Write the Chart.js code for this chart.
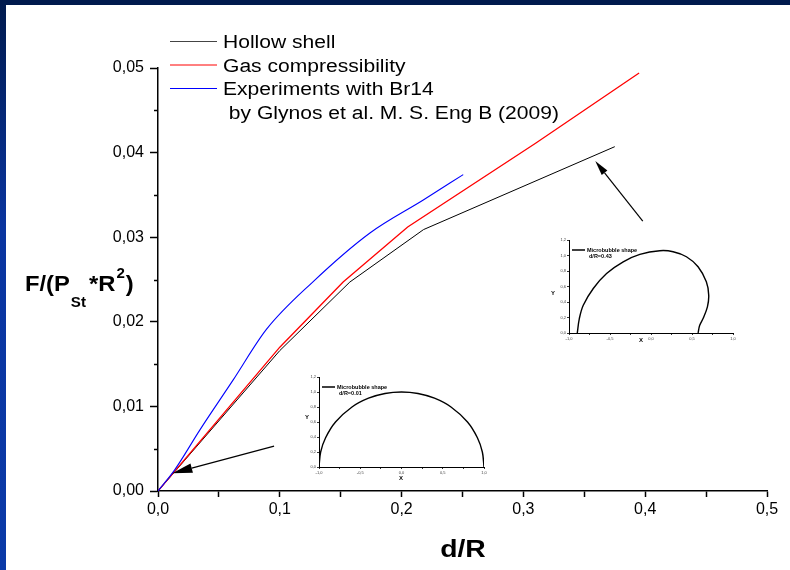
<!DOCTYPE html>
<html>
<head>
<meta charset="utf-8">
<script src="https://cdn.jsdelivr.net/npm/chart.js@4/dist/chart.umd.min.js"></script>
<style>
body { margin: 0; background: #fff; }
#wrap { position: relative; width: 790px; height: 570px; overflow: hidden; background: #fff; }
#topband { position: absolute; left: 0; top: 0; width: 790px; height: 5px; background: #001a4d; }
#leftband { position: absolute; left: 0; top: 0; width: 6px; height: 570px; background: linear-gradient(#001a4d, #0a35a0 40%, #0b3aa8); }
canvas { position: absolute; }
</style>
</head>
<body>
<div id="wrap">
<canvas id="main" width="790" height="570" style="left:0;top:0"></canvas>
<canvas id="insetA" width="205" height="120" style="left:290px;top:365px"></canvas>
<canvas id="insetB" width="205" height="120" style="left:540px;top:228px"></canvas>
<div id="topband"></div>
<div id="leftband"></div>
</div>
<script>
// main curves
var hollowX = [0, 0.1, 0.1575, 0.218, 0.375];
var hollowY = [0, 0.0166, 0.0247, 0.0309, 0.0407];
var gasX = [0, 0.1, 0.152, 0.205, 0.31, 0.395];
var gasY = [0, 0.0170, 0.0247, 0.0312, 0.0411, 0.0494];
var expX = [0, 0.0137, 0.0343, 0.0616, 0.089, 0.127, 0.174, 0.2178, 0.2506];
var expY = [0, 0.0025, 0.0072, 0.0131, 0.0191, 0.0247, 0.0305, 0.0344, 0.0374];

var legendNames = ['Hollow shell', 'Gas compressibility', 'Experiments with Br14', ' by Glynos et al. M. S. Eng B (2009)'];
var legendColors = ['#444', '#f00', '#00f', null];

// arrows, in data units: [tailX, tailY, tipX, tipY, headLength]
var arrows = [[0.0953, 0.0053, 0.0118, 0.0021, 20], [0.398, 0.0319, 0.359, 0.0390, 15]];

// microbubble shapes for the insets
var shapeAX = [-1, -0.98, -0.92, -0.8, -0.6, -0.4, -0.2, 0, 0.2, 0.4, 0.6, 0.8, 0.92, 0.98, 1];
var shapeAY = [0, 0.2, 0.39, 0.6, 0.8, 0.917, 0.98, 1, 0.98, 0.917, 0.8, 0.6, 0.39, 0.2, 0];
var shapeBX = [-0.899, -0.874, -0.826, -0.704, -0.542, -0.339, -0.136, 0.108, 0.27, 0.432, 0.574, 0.675, 0.704, 0.688, 0.635, 0.594, 0.574];
var shapeBY = [0, 0.186, 0.358, 0.574, 0.768, 0.919, 1.014, 1.062, 1.049, 0.984, 0.855, 0.66, 0.488, 0.337, 0.186, 0.099, 0];

var FONT = '"Liberation Sans", Arial, sans-serif';

function pts(xs, ys)
{
    return xs.map(function (x, i) { return {x: x, y: ys[i]}; });
}

function comma(v, d)
{
    return v.toFixed(d).replace('.', ',');
}

function isMajorY(v)
{
    return Math.round(v * 1000) % 10 === 0;
}

function stretchText(ctx, txt, x, y, sx)
{
    var w = ctx.measureText(txt).width * sx;
    ctx.save();
    ctx.translate(x, y);
    ctx.scale(sx, 1);
    ctx.fillText(txt, 0, 0);
    ctx.restore();
    return w;
}

var deco = {
    id: 'deco',
    afterDraw: function (chart) {
        var ctx = chart.ctx;
        var xs = chart.scales.x, ys = chart.scales.y;
        ctx.save();
        ctx.fillStyle = '#000';
        ctx.textAlign = 'left';
        ctx.textBaseline = 'alphabetic';

        // minor ticks on y
        ctx.strokeStyle = '#000';
        ctx.lineWidth = 1.5;
        ys.ticks.forEach(function (t) {
            if (isMajorY(t.value)) return;
            var py = Math.round(ys.getPixelForValue(t.value)) + 0.5;
            ctx.beginPath();
            ctx.moveTo(chart.chartArea.left - 4, py);
            ctx.lineTo(chart.chartArea.left, py);
            ctx.stroke();
        });

        // legend
        ctx.font = '18px ' + FONT;
        for (var i = 0; i < legendNames.length; i++) {
            var yy = 41 + i * 23.5;
            if (legendColors[i]) {
                ctx.strokeStyle = legendColors[i];
                ctx.lineWidth = 1;
                ctx.beginPath();
                ctx.moveTo(170, yy + 0.5);
                ctx.lineTo(217, yy + 0.5);
                ctx.stroke();
            }
            stretchText(ctx, legendNames[i], 223, yy + 7, 1.17);
        }

        // y title
        var x = 25, sx = 1.08;
        ctx.font = 'bold 22px ' + FONT;
        x += stretchText(ctx, 'F/(P', x, 291, sx);
        ctx.font = 'bold 14px ' + FONT;
        x += stretchText(ctx, 'St', x + 1, 307, sx) + 4;
        ctx.font = 'bold 22px ' + FONT;
        x += stretchText(ctx, '*R', x, 291, sx);
        ctx.font = 'bold 14px ' + FONT;
        x += stretchText(ctx, '2', x + 1, 278, sx) + 2;
        ctx.font = 'bold 22px ' + FONT;
        stretchText(ctx, ')', x, 291, sx);

        // x title
        ctx.font = 'bold 24px ' + FONT;
        var w = ctx.measureText('d/R').width * 1.18;
        stretchText(ctx, 'd/R', 463 - w / 2, 557, 1.18);

        // arrows
        ctx.strokeStyle = '#000';
        ctx.lineWidth = 1.2;
        arrows.forEach(function (a) {
            var x0 = xs.getPixelForValue(a[0]), y0 = ys.getPixelForValue(a[1]);
            var x1 = xs.getPixelForValue(a[2]), y1 = ys.getPixelForValue(a[3]);
            var ang = Math.atan2(y1 - y0, x1 - x0);
            var L = a[4], hw = L * 0.24;
            var bx = x1 - L * Math.cos(ang), by = y1 - L * Math.sin(ang);
            ctx.beginPath();
            ctx.moveTo(x0, y0);
            ctx.lineTo(bx, by);
            ctx.stroke();
            ctx.beginPath();
            ctx.moveTo(x1, y1);
            ctx.lineTo(bx + hw * Math.sin(ang), by - hw * Math.cos(ang));
            ctx.lineTo(bx - hw * Math.sin(ang), by + hw * Math.cos(ang));
            ctx.closePath();
            ctx.fill();
        });
        ctx.restore();
    }
};

new Chart(document.getElementById('main'), {
    type: 'scatter',
    data: {
        datasets: [
            {data: pts(expX, expY), showLine: true, borderColor: '#00f', borderWidth: 1.1, pointRadius: 0, cubicInterpolationMode: 'monotone'},
            {data: pts(gasX, gasY), showLine: true, borderColor: '#f00', borderWidth: 1.3, pointRadius: 0, tension: 0},
            {data: pts(hollowX, hollowY), showLine: true, borderColor: '#000', borderWidth: 1, pointRadius: 0, tension: 0}
        ]
    },
    options: {
        responsive: false,
        animation: false,
        devicePixelRatio: 1,
        layout: {padding: {left: 0, right: 23, top: 68, bottom: 0}},
        plugins: {legend: {display: false}, tooltip: {enabled: false}},
        scales: {
            x: {
                type: 'linear', min: 0, max: 0.5,
                afterFit: function (s) { s.height = 79; },
                border: {display: true, color: '#000', width: 1.5},
                grid: {display: true, drawOnChartArea: false, drawTicks: true, tickLength: 6, tickColor: '#000', tickWidth: 1.5},
                ticks: {
                    stepSize: 0.05, autoSkip: false, maxRotation: 0, padding: 3, color: '#000',
                    font: {family: FONT, size: 16},
                    callback: function (v) { var k = Math.round(v * 100); return k % 10 === 0 ? comma(k / 100, 1) : ''; }
                }
            },
            y: {
                type: 'linear', min: 0, max: 0.05,
                afterFit: function (s) { s.width = 158; },
                border: {display: true, color: '#000', width: 1.5},
                grid: {
                    display: true, drawOnChartArea: false, drawTicks: true, tickLength: 8, tickWidth: 1.5,
                    tickColor: function (c) { return c.tick && isMajorY(c.tick.value) ? '#000' : 'rgba(0,0,0,0)'; }
                },
                ticks: {
                    stepSize: 0.005, autoSkip: false, padding: 6, color: '#000',
                    font: {family: FONT, size: 16},
                    callback: function (v) { return isMajorY(v) ? comma(Math.round(v * 1000) / 1000, 2) : ''; }
                }
            }
        }
    },
    plugins: [deco]
});

function makeInset(id, xs, ys, label, padR, xh, yPos, xPos)
{
    var insetDeco = {
        id: 'insetDeco',
        afterDraw: function (chart) {
            var ctx = chart.ctx;
            var a = chart.chartArea;
            ctx.save();
            ctx.fillStyle = '#000';
            ctx.font = 'bold 6px ' + FONT;
            ctx.textAlign = 'center';
            ctx.textBaseline = 'middle';
            ctx.fillText('Y', yPos[0], yPos[1]);
            ctx.fillText('X', xPos[0], xPos[1]);
            ctx.textAlign = 'left';
            ctx.strokeStyle = '#000';
            ctx.lineWidth = 1.5;
            ctx.beginPath();
            ctx.moveTo(a.left + 3, a.top + 10);
            ctx.lineTo(a.left + 16, a.top + 10);
            ctx.stroke();
            ctx.font = 'bold 5.5px ' + FONT;
            ctx.fillText('Microbubble shape', a.left + 18, a.top + 10);
            ctx.fillText(label, a.left + 20, a.top + 16);
            ctx.restore();
        }
    };
    var small = {family: FONT, size: 4};
    new Chart(document.getElementById(id), {
        type: 'scatter',
        data: {datasets: [{data: pts(xs, ys), showLine: true, borderColor: '#000', borderWidth: 1.4, pointRadius: 0, tension: 0.35}]},
        options: {
            responsive: false,
            animation: false,
            devicePixelRatio: 1,
            layout: {padding: {left: 0, right: padR, top: 12, bottom: 0}},
            plugins: {legend: {display: false}, tooltip: {enabled: false}},
            scales: {
                x: {
                    type: 'linear', min: -1, max: 1,
                    afterFit: function (s) { s.height = xh; },
                    border: {display: true, color: '#000', width: 1},
                    grid: {display: true, drawOnChartArea: false, tickLength: 2, tickColor: '#000', tickWidth: 0.8},
                    ticks: {
                        stepSize: 0.25, autoSkip: false, maxRotation: 0, padding: 1, color: '#444', font: small,
                        callback: function (v) { return Math.round(v * 4) % 2 === 0 ? comma(v, 1) : ''; }
                    }
                },
                y: {
                    type: 'linear', min: 0, max: 1.2,
                    afterFit: function (s) { s.width = 29; },
                    border: {display: true, color: '#000', width: 1},
                    grid: {display: true, drawOnChartArea: false, tickLength: 2, tickColor: '#000', tickWidth: 0.8},
                    ticks: {
                        stepSize: 0.2, autoSkip: false, padding: 1, color: '#444', font: small,
                        callback: function (v) { return comma(v, 1); }
                    }
                }
            }
        },
        plugins: [insetDeco]
    });
}

makeInset('insetA', shapeAX, shapeAY, 'd/R=0.01', 11, 18, [17, 52], [111, 113]);
makeInset('insetB', shapeBX, shapeBY, 'd/R=0.43', 12, 15, [13, 65], [101, 112]);
</script>
</body>
</html>
